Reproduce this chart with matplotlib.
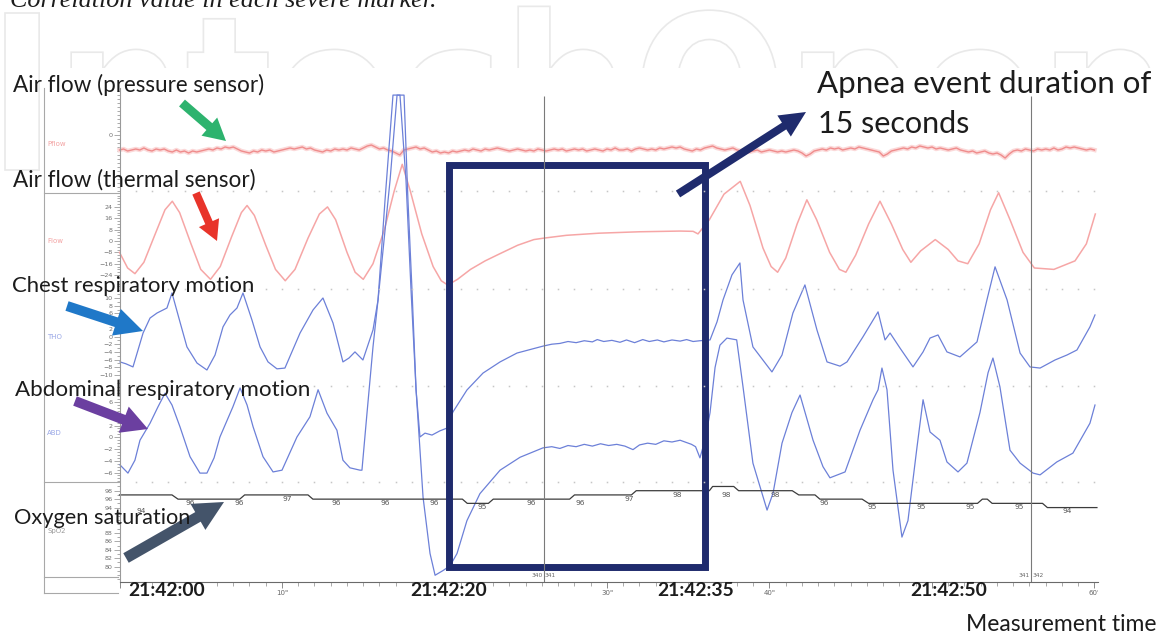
import numpy as np
import matplotlib
matplotlib.use("Agg")
import matplotlib.pyplot as plt
from matplotlib.patches import Rectangle, FancyArrow, PathPatch
from matplotlib.ticker import MultipleLocator, FixedLocator, FixedFormatter
from matplotlib.textpath import TextPath
from matplotlib.font_manager import FontProperties
from matplotlib.transforms import Affine2D

# ---------------------------------------------------------------------------
# Recording data (time in seconds after 21:42:00)
# ---------------------------------------------------------------------------
# nasal pressure flow, sampled every 0.25 s
press_dt = 0.25
press_v = [
    -15, -14, -16, -15, -14, -15, -13, -15, -16, -14, -15, -14, -16, -17, -15, -17, -16, -18, -16, -17,
    -16, -15, -14, -15, -13, -14, -12, -13, -12, -14, -16, -17, -18, -16, -17, -15, -16, -15, -17, -16,
    -15, -14, -13, -14, -13, -12, -14, -13, -15, -16, -17, -15, -16, -14, -15, -14, -15, -13, -14, -15,
    -13, -11, -10, -12, -14, -13, -15, -16, -18, -20, -15, -14, -13, -12, -14, -13, -15, -17, -16, -18,
    -17, -18, -16, -17, -16, -15, -16, -14, -15, -16, -14, -15, -14, -13, -14, -15, -16, -15, -14, -15,
    -16, -15, -16, -14, -15, -16, -15, -14, -15, -14, -16, -15, -14, -15, -14, -16, -15, -14, -15, -16,
    -14, -15, -13, -15, -15, -14, -16, -14, -13, -14, -15, -14, -15, -13, -14, -13, -12, -13, -12, -14,
    -15, -16, -14, -15, -13, -12, -11, -13, -14, -15, -14, -13, -15, -16, -15, -17, -16, -15, -17, -16,
    -15, -16, -17, -16, -17, -16, -15, -16, -18, -21, -19, -16, -15, -14, -15, -13, -14, -13, -15, -14,
    -13, -14, -12, -13, -14, -15, -16, -17, -21, -19, -16, -15, -14, -13, -14, -12, -13, -11, -12, -13,
    -12, -14, -13, -14, -15, -14, -13, -15, -16, -17, -16, -18, -17, -16, -18, -19, -18, -20, -23, -19,
    -16, -15, -16, -14, -15, -16, -14, -15, -14, -15, -13, -15, -14, -12, -13, -12, -13, -14, -15, -14,
    -15]

# thermal flow sensor
therm_t = [0.0, 0.5, 0.95, 1.5, 2.2, 2.8, 3.25, 3.7, 4.4, 5.0, 5.6, 6.2, 6.9, 7.5, 7.85, 8.3,
           9.0, 9.6, 10.2, 10.8, 11.6, 12.3, 12.8, 13.3, 14.0, 14.5, 15.0, 15.6, 16.3, 16.9,
           17.4, 17.9, 18.6, 19.3, 19.8, 20.2, 20.8, 21.6, 22.5, 23.4, 24.5, 25.5, 26.1, 27.5,
           29.5, 32.0, 34.5, 35.3, 35.6, 36.3, 37.2, 38.2, 38.8, 39.6, 40.1, 40.5, 41.0, 41.7,
           42.3, 42.9, 43.7, 44.3, 44.7, 45.3, 46.1, 46.8, 47.5, 48.2, 48.7, 49.3, 50.2, 51.0,
           51.6, 52.2, 52.9, 53.6, 54.1, 54.8, 55.6, 56.3, 57.5, 58.8, 59.5, 60.05]
therm_v = [-8, -19, -23, -15, 5, 22, 28, 20, -2, -20, -27, -18, 3, 20, 25, 18,
           -3, -20, -28, -20, 2, 19, 24, 15, -8, -22, -27, -16, 8, 35,
           54, 35, 5, -18, -28, -31, -27, -20, -14, -9, -3, 1, 2, 4,
           5.5, 6.5, 7, 6.8, 5, 15, 33, 42, 25, -5, -18, -22, -12, 12,
           29, 15, -8, -20, -22, -10, 12, 28, 12, -6, -15, -7, 1, -6,
           -14, -16, -2, 22, 34, 15, -8, -19, -20, -14, -2, 19]

# chest (thoracic) effort
tho_t = [0.03, 0.40, 0.83, 1.14, 1.45, 1.88, 2.31, 2.92, 3.23, 3.72, 4.15, 4.77, 5.38, 5.88,
         6.37, 6.80, 7.23, 7.60, 8.15, 8.65, 9.14, 9.69, 10.18, 11.11, 11.91, 12.52, 13.14,
         13.75, 14.12, 14.49, 14.98, 15.29, 15.60, 15.91, 16.22, 16.65, 17.08, 17.51, 17.75,
         18.0, 18.25, 18.49, 18.80, 19.23, 19.72, 20.15, 20.52, 21.38, 22.37, 23.42, 24.46,
         26.06, 26.6, 27.1, 27.6, 28.1, 28.6, 29.1, 29.4, 29.8, 30.3, 30.8, 31.2, 31.7, 32.2,
         32.6, 33.1, 33.5, 34.0, 34.5, 34.9, 35.3, 35.72, 36.34, 36.77, 37.14, 37.69, 38.18,
         38.37, 38.98, 40.15, 40.77, 41.44, 42.18, 42.92, 43.54, 44.34, 44.77, 45.75, 46.68,
         47.11, 47.42, 48.03, 48.83, 49.45, 49.88, 50.37, 50.92, 51.72, 52.77, 53.38, 53.88,
         54.62, 55.42, 56.03, 56.65, 57.57, 58.31, 58.92, 59.72, 60.03]
tho_v = [-6.6, -7.1, -7.9, -3.5, 0.9, 4.8, 6.1, 7.4, 11.3, 3.8, -2.7, -6.9, -8.7, -4.8,
         2.5, 5.6, 7.4, 11.3, 4.3, -2.7, -6.6, -8.4, -8.2, 0.9, 6.9, 10.0, 3.5,
         -6.6, -5.6, -4.0, -6.1, -2.2, 1.7, 9.5, 22.5, 40.6, 62.7, 62.7, 35.5,
         12.1, -13.9, -26.1, -25.1, -25.6, -24.5, -23.8, -19.6, -13.9, -9.5, -6.6, -4.3,
         -2.5, -2.0, -1.8, -1.3, -1.6, -1.1, -1.4, -0.8, -1.3, -1.0, -1.5, -0.9, -1.6, -0.8,
         -1.3, -0.9, -1.4, -0.9, -1.2, -0.8, -1.3, -1.1, -0.9, 3.8, 9.5, 16.0, 19.1,
         9.5, -2.7, -9.2, -4.8, 6.1, 13.4, 1.7, -6.6, -7.7, -6.6, -0.1, 6.4,
         -0.9, 0.9, -3.0, -7.9, -4.0, -0.4, 0.4, -4.0, -5.3, -1.4, 9.5, 18.1,
         9.5, -4.3, -7.9, -8.2, -6.1, -4.8, -3.5, 2.5, 5.6]

# abdominal effort
abd_t = [0.03, 0.52, 0.95, 1.26, 1.88, 2.37, 2.80, 3.23, 3.72, 4.34, 4.95, 5.38, 5.82, 6.18,
         6.98, 7.42, 7.85, 8.22, 8.83, 9.45, 10.0, 10.92, 11.72, 12.22, 12.77, 13.38, 13.75,
         14.18, 14.8, 14.92, 15.23, 15.60, 15.91, 16.34, 16.83, 17.26, 17.63, 17.94, 18.25,
         18.68, 19.11, 19.42, 19.91, 20.34, 20.77, 21.38, 22.18, 23.42, 24.65, 26.06, 26.6,
         27.1, 27.6, 28.1, 28.6, 29.1, 29.6, 30.1, 30.6, 31.1, 31.6, 32.0, 32.5, 33.0, 33.5,
         34.0, 34.5, 34.9, 35.2, 35.45, 35.72, 36.03, 36.34, 36.65, 36.95, 37.38, 37.98,
         38.37, 38.98, 39.85, 40.22, 40.77, 41.38, 41.88, 42.68, 43.29, 43.72, 44.65, 45.57,
         46.37, 46.68, 46.92, 47.23, 47.6, 48.15, 48.52, 49.08, 49.45, 49.88, 50.49, 50.92,
         51.6, 52.15, 52.95, 53.45, 53.75, 54.18, 54.80, 55.42, 56.22, 56.65, 57.68, 58.67,
         59.72, 60.03]
abd_v = [-4.7, -6.1, -3.9, -0.5, 2.4, 5.2, 7.5, 5.5, 1.8, -3.3, -6.1, -6.1, -3.5, 0.05,
         5.2, 8.4, 5.5, 1.8, -3.3, -5.9, -5.6, 0.05, 3.5, 8.1, 4.1, 1.2, -3.9,
         -5.2, -5.6, -5.6, 4.1, 15.4, 23.4, 40.4, 58.3, 58.3, 43.8, 25.1, 8.1,
         -10.2, -19.8, -23.5, -22.7, -21.9, -19.8, -14.2, -9.6, -5.6, -3.4, -1.8, -1.6,
         -1.9, -1.4, -1.6, -1.2, -1.5, -1.1, -1.4, -1.2, -1.5, -2.1, -1.3, -1.0, -1.2, -0.6,
         -0.8, -0.5, -0.9, -1.2, -1.6, -3.5, -0.5, 4.2, 11.9, 15.7, 16.9, 16.6,
         8.6, -4.4, -12.4, -9.5, -1.0, 4.2, 7.2, -0.5, -5.0, -6.9, -5.9, 1.2,
         6.4, 8.1, 11.8, 8.1, -5.6, -17.0, -14.2, -1.6, 6.4, 0.9, -0.5, -4.2,
         -5.9, -4.4, 4.2, 11.0, 13.5, 8.6, -2.2, -4.4, -6.1, -6.4, -4.2, -2.7,
         2.4, 5.5]

# oxygen saturation (%)
spo2_t = [0.0, 3.23, 3.6, 7.4, 7.7, 11.6, 11.9, 21.1, 21.4, 22.7, 23.0, 27.7, 28.0, 31.5,
          31.8, 36.3, 36.5, 37.8, 38.1, 41.4, 41.8, 42.8, 43.1, 45.7, 46.1, 52.8, 53.1, 53.4,
          53.7, 56.8, 57.1, 60.15]
spo2_v = [97, 97, 96, 96, 97, 97, 96, 96, 95, 95, 96, 96, 97, 97,
          98, 98, 99, 99, 98, 98, 97, 97, 96, 96, 95, 95, 96, 96,
          95, 95, 94, 94]
spo2_lab_t = [1.34, 4.34, 7.34, 10.34, 13.34, 16.34, 19.34, 22.34, 25.34, 28.34,
              31.34, 34.34, 37.34, 40.34, 43.34, 46.34, 49.34, 52.34, 55.34, 58.34]
spo2_lab_v = [94, 96, 96, 97, 96, 96, 96, 95, 96, 96, 97, 98, 98, 98, 96, 95, 95, 95, 95, 94]

# scored apnea and epoch boundaries
apnea_start, apnea_end = 20.25, 36.06
epoch_t = [26.1, 56.1]
epoch_lab = [("340", "341"), ("341", "342")]
clock_text = ["21:42:00", "21:42:20", "21:42:35", "21:42:50"]
sec_ticks = [0, 10, 20, 30, 40, 50, 60]
sec_labels = ["", '10"', "", '30"', '40"', "", '60"']

# ---------------------------------------------------------------------------
W, H = 1161, 633
fig = plt.figure(figsize=(W / 100, H / 100), dpi=100)
fig.patch.set_facecolor("white")

PX_PER_S = 16.25
T_SPAN = 60.2
X0 = 119.5
X1 = X0 + PX_PER_S * T_SPAN


def px_axes(x0, y0, x1, y1, z):
    ax = fig.add_axes([x0 / W, 1 - y1 / H, (x1 - x0) / W, (y1 - y0) / H], zorder=z)
    ax.set_facecolor("none")
    return ax


# faint publisher watermark, mostly hidden behind the screenshot area
bg = fig.add_axes([0, 0, 1, 1], zorder=-3)
bg.set_xlim(0, W)
bg.set_ylim(H, 0)
bg.axis("off")
wm_path = TextPath((0, 0), "IntechOpen", size=1,
                   prop=FontProperties(family="DejaVu Sans", weight="bold"))
ext = wm_path.get_extents()
wm_tr = Affine2D().translate(-ext.x0, 0).scale(1150 / ext.width, -157 / 0.729).translate(5, 170)
bg.add_patch(PathPatch(wm_tr.transform_path(wm_path), fc="white", ec="#e9e9e9", lw=1.2))
fig.patches.append(Rectangle((44 / W, 1 - 600 / H), 1 - 44 / W, (600 - 68) / H,
                             transform=fig.transFigure, fc="white", ec="none", zorder=-2))


def channel(top, bottom, zero_px, k, major, minor):
    ax = px_axes(X0, top, X1, bottom, 2)
    ax.set_xlim(0, T_SPAN)
    ax.set_ylim((zero_px - bottom) / k, (zero_px - top) / k)
    for s in ax.spines.values():
        s.set_visible(False)
    ax.tick_params(axis="x", which="both", bottom=False, labelbottom=False)
    ax.yaxis.set_major_locator(FixedLocator(major))
    ax.yaxis.set_minor_locator(MultipleLocator(minor))
    ax.tick_params(axis="y", which="major", direction="out", length=4, width=0.5,
                   color="#8a8a8a", labelsize=4.6, labelcolor="#6f6f6f", pad=0.8)
    ax.tick_params(axis="y", which="minor", direction="out", length=2, width=0.5,
                   color="#8a8a8a")
    return ax


ax_p = channel(88, 192, 135.0, 1.0, [0], 4)
ax_th = channel(192, 289, 241.0, 1.42, [-24, -16, -8, 0, 8, 16, 24], 2)
ax_c = channel(289, 386, 336.5, 3.85, list(range(-10, 11, 2)), 1)
ax_a = channel(386, 482, 437.3, 5.87, list(range(-6, 7, 2)), 0.5)
ax_s = channel(482, 582, 904.26, 4.22, [80, 82, 84, 86, 88, 94, 96, 98], 1)

press_t = np.arange(len(press_v)) * press_dt
ax_p.plot(press_t, press_v, color="#fbd9d9", lw=3.2, clip_on=False)
ax_p.plot(press_t, press_v, color="#ef8c8c", lw=1.0, clip_on=False)
ax_th.plot(therm_t, therm_v, color="#f6a6a6", lw=1.1, clip_on=False)
ax_c.plot(tho_t, tho_v, color="#6c80d8", lw=0.9, clip_on=False)
ax_a.plot(abd_t, abd_v, color="#6c80d8", lw=0.9, clip_on=False)
ax_s.plot(spo2_t, spo2_v, color="#3c3c3c", lw=0.9, clip_on=False)
for t, v in zip(spo2_lab_t, spo2_lab_v):
    ax_s.text(t, v - 0.2, str(v), ha="center", va="top", fontsize=5.4, color="#555555",
              family="DejaVu Sans")

# frame with time axis, epoch cursors, separators and the apnea box
fr = px_axes(X0, 88, X1, 582, 3)
fr.set_xlim(0, T_SPAN)
fr.set_ylim(582, 88)
for side in ("top", "right"):
    fr.spines[side].set_visible(False)
fr.spines["bottom"].set_color("#6a6a6a")
fr.spines["bottom"].set_linewidth(0.8)
fr.spines["left"].set_color("#9a9a9a")
fr.spines["left"].set_linewidth(0.8)
fr.set_yticks([])
fr.xaxis.set_major_locator(FixedLocator(sec_ticks))
fr.xaxis.set_major_formatter(FixedFormatter(sec_labels))
fr.xaxis.set_minor_locator(MultipleLocator(1))
fr.tick_params(axis="x", which="major", direction="out", length=4.5, width=0.6,
               color="#777777", labelsize=5, labelcolor="#666666", pad=1.2)
fr.tick_params(axis="x", which="minor", direction="out", length=3, width=0.5,
               color="#888888")

seconds = np.arange(1, 61)
for y in (191, 289, 386, 482):
    fr.plot(seconds, np.full(seconds.shape, y), ls="none", marker="s", ms=1.1,
            mec="none", mfc="#c6c6c6")
fr.vlines(epoch_t, 96, 582, color="#7a7a7a", lw=0.8)
for t, (a, b) in zip(epoch_t, epoch_lab):
    fr.text(t - 0.08, 578, a, ha="right", va="bottom", fontsize=4.2, color="#666666")
    fr.text(t + 0.08, 578, b, ha="left", va="bottom", fontsize=4.2, color="#666666")
fr.add_patch(Rectangle((apnea_start, 164.5), apnea_end - apnea_start, 567 - 164.5,
                       fill=False, ec="#1f2b6d", lw=5.0, joinstyle="miter", clip_on=False))

# overlay in pixel coordinates for panel frame, labels and arrows
ov = fig.add_axes([0, 0, 1, 1], zorder=10)
ov.set_xlim(0, W)
ov.set_ylim(H, 0)
ov.axis("off")
ov.set_facecolor("none")

pc = "#a8a8a8"
ov.plot([44, 44], [88, 593], color=pc, lw=0.8)
for y in (193, 482, 577, 593):
    ov.plot([44, 118], [y, y], color=pc, lw=0.8)
ov.add_patch(Rectangle((1098, 583), 10, 14, fc="white", ec="none"))

for txt, y, c in [("Pflow", 144, "#f3a3a3"), ("Flow", 241, "#f3a3a3"),
                  ("THO", 337, "#98a6e6"), ("ABD", 433, "#98a6e6"), ("SpO2", 531, "#9a9a9a")]:
    ov.text(47, y, txt, fontsize=5, color=c, va="center", ha="left")

arrows = [((182, 103), (226, 141), "#2db36e", 9, 24, 22),
          ((196, 193), (217, 241), "#e8342a", 8, 22, 20),
          ((67, 306), (143, 331), "#1f78c8", 10, 28, 28),
          ((75, 401), (148, 429), "#6b3fa0", 10, 28, 26),
          ((126, 558), (224, 502), "#44546a", 11, 30, 30),
          ((678, 194), (806, 112), "#1f2b6d", 8, 25, 26)]
for (xa, ya), (xb, yb), c, w, hw, hl in arrows:
    ov.add_patch(FancyArrow(xa, ya, xb - xa, yb - ya, width=w, head_width=hw,
                            head_length=hl, length_includes_head=True, color=c, lw=0))

texts = []


def label(x, y, s, width, **kw):
    kw.setdefault("family", "Lato")
    kw.setdefault("color", "#1c1c1c")
    t = ov.text(x, y, s, va="baseline", ha="left", fontsize=14, **kw)
    texts.append((t, width))
    return t


label(13, 92, "Air flow (pressure sensor)", 253)
label(13, 187, "Air flow (thermal sensor)", 244)
label(12, 292.5, "Chest respiratory motion", 243)
label(15, 396.5, "Abdominal respiratory motion", 295)
label(14.5, 524, "Oxygen saturation", 177)
label(817, 93, "Apnea event duration of", 336)
label(818, 133, "15 seconds", 152)
label(966, 631, "Measurement time", 190)
label(10, 7, "Correlation value in each severe marker.", 427,
      family="Liberation Serif", style="italic")
for s, x in zip(clock_text, (128, 410, 657, 910)):
    label(x, 596, s, 77, weight="bold")

renderer = fig.canvas.get_renderer()
for t, width in texts:
    w = t.get_window_extent(renderer=renderer).width
    t.set_fontsize(t.get_fontsize() * width / w)

fig.savefig("out.png", dpi=100)
